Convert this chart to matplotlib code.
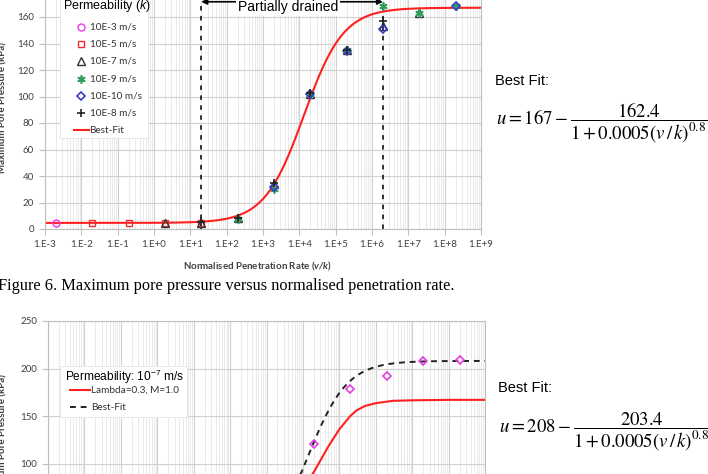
import numpy as np
import matplotlib
matplotlib.use("Agg")
import matplotlib.pyplot as plt
from matplotlib.lines import Line2D
from matplotlib.patches import Rectangle
from matplotlib.ticker import LogLocator, NullFormatter, FixedLocator, FixedFormatter

plt.rcParams["mathtext.fontset"] = "custom"
plt.rcParams["mathtext.rm"] = "Liberation Sans"
plt.rcParams["mathtext.it"] = "Liberation Sans:italic"
plt.rcParams["mathtext.bfit"] = "Lato:italic:bold"

W, H = 708, 474
SANS = "Liberation Sans"   # Arial-like text
CAL = "Lato"               # Calibri-like chart text
SERIF = "Liberation Serif"

# ── shared x axis ──────────────────────────────────────────────────────────────
X_TICKS = [1e-3, 1e-2, 1e-1, 1e0, 1e1, 1e2, 1e3, 1e4, 1e5, 1e6, 1e7, 1e8, 1e9]
X_TICK_LABELS = ["1.E-3", "1.E-2", "1.E-1", "1.E+0", "1.E+1", "1.E+2", "1.E+3",
                 "1.E+4", "1.E+5", "1.E+6", "1.E+7", "1.E+8", "1.E+9"]

# ── Figure 6: max pore pressure per permeability ──────────────────────────────
K3_X = [2e-3]
K3_U = [4.5]
K5_X = [2e-2, 2e-1, 2e0, 2e1]
K5_U = [4.5, 4.5, 4.5, 4.8]
K7_X = [2e0, 2e1, 2e2, 2e3, 2e4, 2e5, 2e6, 2e7]
K7_U = [4.2, 4.5, 8.0, 34, 102, 135, 153, 163]
K9_X = [2e2, 2e3, 2e4, 2e5, 2e6, 2e7, 2e8]
K9_U = [7.5, 30, 102, 135, 168, 163, 168.5]
K10_X = [2e3, 2e4, 2e5, 2e6, 2e8]
K10_U = [31.5, 102, 134.5, 151, 168.5]
K8_X = [2e1, 2e2, 2e3, 2e4, 2e5, 2e6]
K8_U = [5, 8.5, 35, 102.5, 135, 157]
PERM_LABELS = ["10E-3 m/s", "10E-5 m/s", "10E-7 m/s", "10E-9 m/s", "10E-10 m/s", "10E-8 m/s"]

# best fit printed beside the chart: u = U0 - DU / (1 + A (v/k)^N)
FIT1_U0, FIT1_DU, FIT1_A, FIT1_N = 167, 162.4, 0.0005, 0.8
DRAINED_LIMITS = [20, 2e6]

# ── second chart: k = 1e-7 m/s ────────────────────────────────────────────────
SIM_X = [1e-3, 1e0, 1e1, 1e2, 1e3, 3e3, 1e4, 2e4, 3e4, 5e4, 1e5, 2e5, 3e5,
         5e5, 1e6, 3e6, 1e7, 1e8, 1e9]
SIM_U = [5, 5, 6, 9, 24, 45, 75, 91, 103, 118, 136, 150, 156,
         160.5, 163.5, 166, 166.5, 167, 167]
TEST_X = [2e4, 2e5, 2e6, 2e7, 2e8]
TEST_U = [120.5, 178.5, 192, 208, 208.5]
FIT2_U0, FIT2_DU, FIT2_A, FIT2_N = 208, 203.4, 0.0005, 0.8

# marker styles for the six permeability series
STYLES = [
    dict(marker="o", ms=5, mfc="none", mec="#ee33ee", mew=1),
    dict(marker="s", ms=5, mfc="none", mec="#e83030", mew=1),
    dict(marker="^", ms=5.5, mfc="none", mec="#333333", mew=1),
    dict(marker=(6, 2, 0), ms=6, mfc="none", mec="#2e9e5a", mew=1.2),
    dict(marker="D", ms=4.5, mfc="none", mec="#3a3acc", mew=1.2),
    dict(marker="+", ms=6, mfc="none", mec="#222222", mew=1.2),
]
RED = "#ff2020"


def fx(x):
    return x / W


def fy(y):
    return 1 - y / H


def style_axes(ax, ymax, ystep):
    ax.set_xscale("log")
    ax.set_xlim(1e-3, 1e9)
    ax.set_ylim(0, ymax)
    ax.xaxis.set_major_locator(FixedLocator(X_TICKS))
    ax.xaxis.set_major_formatter(FixedFormatter(X_TICK_LABELS))
    ax.xaxis.set_minor_locator(LogLocator(base=10, subs=np.arange(2, 10), numticks=300))
    ax.xaxis.set_minor_formatter(NullFormatter())
    ax.set_yticks(np.arange(0, ymax + 1, ystep))
    ax.grid(True, which="major", axis="both", color="#d0d0d0", lw=0.8)
    ax.grid(True, which="minor", axis="x", color="#e6e6e6", lw=0.6)
    ax.set_axisbelow(True)
    for s in ax.spines.values():
        s.set_color("#bfbfbf")
        s.set_linewidth(0.8)
    ax.tick_params(which="major", length=4, color="#bfbfbf", pad=4,
                   labelsize=7, labelcolor="#404040")
    ax.tick_params(which="minor", length=0)
    for lab in ax.get_xticklabels() + ax.get_yticklabels():
        lab.set_family(CAL)


def legend_box(x0, y0, x1, y1):
    fig.add_artist(Rectangle((fx(x0), fy(y1)), fx(x1 - x0), (y1 - y0) / H,
                             transform=fig.transFigure, facecolor="white",
                             edgecolor="#e4e4e4", lw=0.6, zorder=1))


def fig_line(xpx, ypx, **kw):
    fig.add_artist(Line2D([fx(v) for v in xpx], [fy(v) for v in ypx],
                          transform=fig.transFigure, zorder=2, **kw))


fig = plt.figure(figsize=(W / 100, H / 100), dpi=100)
fig.patch.set_facecolor("white")

# ── top chart ─────────────────────────────────────────────────────────────────
ax1 = fig.add_axes([fx(45), fy(229), fx(481 - 45), (229 + 9.5) / H])
style_axes(ax1, 180, 20)

xs = np.logspace(-3, 9, 500)
ax1.plot(xs, FIT1_U0 - FIT1_DU / (1 + FIT1_A * xs ** FIT1_N), color=RED, lw=1.5, zorder=2)

series = [(K3_X, K3_U), (K5_X, K5_U), (K7_X, K7_U), (K9_X, K9_U), (K10_X, K10_U), (K8_X, K8_U)]
for (sx, su), st in zip(series, STYLES):
    ax1.plot(sx, su, ls="none", zorder=3, **st)

for xv in DRAINED_LIMITS:
    ax1.plot([xv, xv], [0, 171.5], color="#222222", lw=1.3, ls=(0, (2.5, 3)), zorder=2.5)
ax1.annotate("", xy=(DRAINED_LIMITS[0], 171.5), xytext=(DRAINED_LIMITS[1], 171.5),
             arrowprops=dict(arrowstyle="<|-|>", color="black", lw=1.2,
                             shrinkA=0, shrinkB=0, mutation_scale=8))
ax1.text(4.9e3, 167.5, "Partially drained", family=SANS, fontsize=10, ha="center",
         va="center", bbox=dict(facecolor="white", edgecolor="none", pad=1.5), zorder=4)

# legend (Permeability k)
legend_box(60, -2, 148, 138)
fig.text(fx(63), fy(6), "Permeability ($k$)", family=SANS, fontsize=9, ha="left",
         va="center", zorder=3)
for i, (lab, st) in enumerate(zip(PERM_LABELS, STYLES)):
    yy = 27 + i * 17.2
    fig_line([81], [yy], ls="none", **st)
    fig.text(fx(90), fy(yy), lab, family=CAL, fontsize=7.2, color="#333333",
             ha="left", va="center", zorder=3)
yy = 27 + 6 * 17.2
fig_line([74, 89], [yy, yy], color=RED, lw=1.5)
fig.text(fx(89.5), fy(yy), "Best-Fit", family=CAL, fontsize=7.2, color="#333333",
         ha="left", va="center", zorder=3)

fig.text(fx(3), fy(108), "Maximum Pore Pressure (kPa)", rotation=90, ha="center",
         va="center", family=CAL, weight="bold", fontsize=7, color="#404040")
fig.text(fx(258), fy(266), r"Normalised Penetration Rate ($\mathbfit{v/k}$)", ha="center",
         va="center", family=CAL, weight="bold", fontsize=7, color="#404040")
fig.text(fx(-2), fy(286), "Figure 6. Maximum pore pressure versus normalised penetration rate.",
         ha="left", va="center", family=SERIF, fontsize=11.8)

fig.text(fx(495), fy(81), "Best Fit:", ha="left", va="center", family=SANS, fontsize=10.5)
fig.text(fx(496), fy(123), r"$u = 167 - \dfrac{162.4}{1 + 0.0005(v\,/\,k)^{0.8}}$",
         ha="left", va="center", fontsize=13.5, math_fontfamily="stix")

# ── bottom chart ──────────────────────────────────────────────────────────────
ax2 = fig.add_axes([fx(48), fy(558.5), fx(485 - 48), 237.5 / H])
style_axes(ax2, 250, 50)
ax2.plot(SIM_X, SIM_U, color=RED, lw=1.5, zorder=2)
ax2.plot(xs, FIT2_U0 - FIT2_DU / (1 + FIT2_A * xs ** FIT2_N), color="#222222", lw=1.4,
         ls=(0, (3, 2.5)), zorder=2)
ax2.plot(TEST_X, TEST_U, ls="none", marker="D", ms=4.5, mfc="none", mec="#e040e0",
         mew=1.2, zorder=3)

# legend (k = 1e-7 m/s)
legend_box(60, 366, 187, 417)
fig.text(fx(65), fy(377), "Permeability: 10$^{-7}$ m/s", family=SANS, fontsize=8.6,
         ha="left", va="center", zorder=3)
fig_line([70, 90], [390, 390], color=RED, lw=1.5)
fig.text(fx(91), fy(390), "Lambda=0.3, M=1.0", family=CAL, fontsize=7.2, color="#333333",
         ha="left", va="center", zorder=3)
fig_line([70, 89], [407, 407], color="#222222", lw=1.4, ls=(0, (3, 2.5)))
fig.text(fx(91), fy(407), "Best-Fit", family=CAL, fontsize=7.2, color="#333333",
         ha="left", va="center", zorder=3)

fig.text(fx(3), fy(440), "Maximum Pore Pressure (kPa)", rotation=90, ha="center",
         va="center", family=CAL, weight="bold", fontsize=7, color="#404040")

fig.text(fx(498), fy(388), "Best Fit:", ha="left", va="center", family=SANS, fontsize=10.5)
fig.text(fx(499), fy(432), r"$u = 208 - \dfrac{203.4}{1 + 0.0005(v\,/\,k)^{0.8}}$",
         ha="left", va="center", fontsize=13.5, math_fontfamily="stix")

fig.savefig("out.png", dpi=100, facecolor="white")
